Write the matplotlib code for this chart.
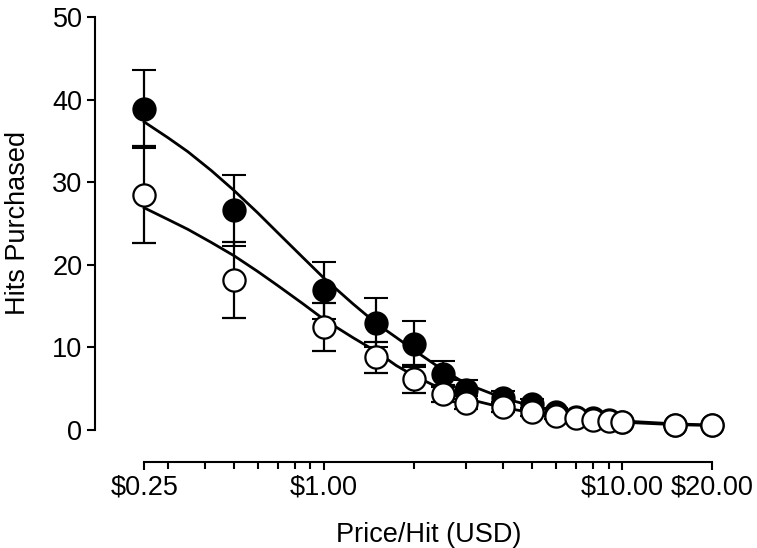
import numpy as np
import matplotlib.pyplot as plt
from matplotlib.ticker import FixedLocator, FixedFormatter, NullFormatter

plt.rcParams['font.family'] = ['Liberation Sans', 'DejaVu Sans']

# Mean hits purchased at each price, with error bars
price = [0.25, 0.5, 1.0, 1.5, 2.0, 2.5, 3.0, 4.0, 5.0, 6.0, 7.0, 8.0, 9.0, 10.0, 15.0, 20.0]
filled_mean = [38.9, 26.6, 16.9, 13.0, 10.4, 6.8, 4.9, 3.9, 3.2, 2.2, 1.6, 1.4, 1.2, 1.0, 0.65, 0.55]
filled_err = [4.7, 4.3, 3.4, 3.0, 2.8, 1.6, 1.1, 0.8, 0.6, 0.5, 0.4, 0.3, 0.3, 0.2, 0.2, 0.1]
open_mean = [28.5, 18.2, 12.5, 8.8, 6.2, 4.4, 3.3, 2.8, 2.2, 1.7, 1.4, 1.2, 1.1, 1.0, 0.6, 0.55]
open_err = [5.9, 4.6, 2.9, 1.9, 1.7, 1.0, 0.8, 0.6, 0.5, 0.4, 0.3, 0.3, 0.2, 0.2, 0.1, 0.1]

# Fitted demand curves
fit_price = [0.25, 0.3, 0.35, 0.42, 0.5, 0.6, 0.7, 0.85, 1.0, 1.25, 1.5, 1.75,
             2.0, 2.5, 3.0, 4.0, 5.0, 6.0, 7.0, 8.0, 10.0, 15.0, 20.0]
filled_fit = [37.3, 35.4, 33.7, 31.4, 29.0, 26.3, 23.9, 20.9, 18.4, 15.3, 12.9, 11.2,
              9.7, 7.3, 5.6, 3.85, 2.9, 2.25, 1.8, 1.5, 1.1, 0.75, 0.6]
open_fit = [26.9, 25.5, 24.3, 22.7, 21.1, 19.2, 17.5, 15.3, 13.4, 11.2, 9.5, 7.8,
            6.6, 4.9, 3.8, 2.7, 2.1, 1.7, 1.4, 1.2, 0.95, 0.65, 0.55]

xtick_vals = [0.25, 1.0, 10.0, 20.0]
xtick_labels = ['$0.25', '$1.00', '$10.00', '$20.00']
xminor_vals = [0.3, 0.4, 0.5, 0.6, 0.7, 0.8, 0.9, 2, 3, 4, 5, 6, 7, 8, 9]

fig = plt.figure(figsize=(7.57, 5.48), dpi=100)
ax = fig.add_axes([95 / 757, 86 / 548, 650 / 757, 452 / 548])

ax.plot(fit_price, filled_fit, color='black', lw=2.0, zorder=1)
ax.plot(fit_price, open_fit, color='black', lw=2.0, zorder=1)

ax.errorbar(price, filled_mean, yerr=filled_err, fmt='o', color='black',
            ms=16, mfc='black', mec='black', mew=1.5,
            elinewidth=1.6, capsize=8.5, capthick=1.6, zorder=2)
ax.errorbar(price, open_mean, yerr=open_err, fmt='o', color='black',
            ms=16, mfc='white', mec='black', mew=1.6,
            elinewidth=1.6, capsize=8.5, capthick=1.6, zorder=3)

ax.set_xscale('log')
ax.set_xlim(0.171, 25.8)
ax.set_ylim(-3.87, 50.85)

ax.spines['top'].set_visible(False)
ax.spines['right'].set_visible(False)
ax.spines['left'].set_bounds(0, 50)
ax.spines['bottom'].set_bounds(0.25, 20)
for s in ['left', 'bottom']:
    ax.spines[s].set_linewidth(1.5)

ax.set_yticks(range(0, 51, 10))
ax.xaxis.set_major_locator(FixedLocator(xtick_vals))
ax.xaxis.set_major_formatter(FixedFormatter(xtick_labels))
ax.xaxis.set_minor_locator(FixedLocator(xminor_vals))
ax.xaxis.set_minor_formatter(NullFormatter())

ax.tick_params(axis='both', which='major', length=6, width=1.5, labelsize=19.5, pad=3)
ax.tick_params(axis='x', which='minor', length=5, width=1.5)

ax.set_xlabel('Price/Hit (USD)', fontsize=19.5, va='baseline')
ax.set_ylabel('Hits Purchased', fontsize=19.5, va='center')
ax.xaxis.set_label_coords(0.514, -0.177)
ax.yaxis.set_label_coords(-0.118, 0.53)

fig.savefig('out.png', dpi=100)
